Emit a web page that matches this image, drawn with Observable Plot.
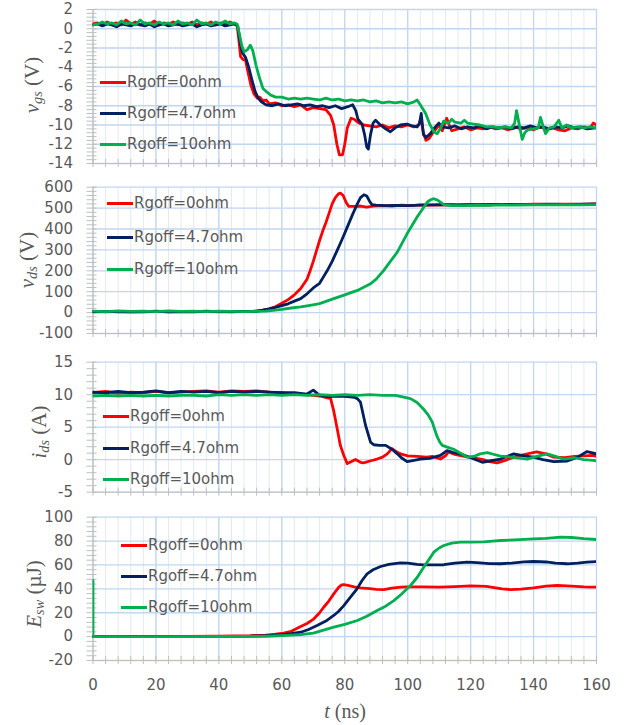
<!DOCTYPE html>
<html><head><meta charset="utf-8">
<script src="https://cdn.jsdelivr.net/npm/d3@7"></script>
<script src="https://cdn.jsdelivr.net/npm/@observablehq/plot@0.6"></script>
<style>
body{margin:0;background:#fff;}
#chart{position:relative;width:628px;height:725px;overflow:hidden;background:#fff;}
#chart svg{position:absolute;left:0;}
.leg{position:absolute;display:flex;align-items:center;height:20px;font-family:"DejaVu Sans",sans-serif;font-size:15px;color:#595959;white-space:nowrap;}
.leg .sw{display:inline-block;width:26px;height:3px;margin-right:1px;}
.ytitle{position:absolute;font-family:"Liberation Serif",serif;font-size:21px;color:#595959;white-space:nowrap;transform:translate(-50%,-50%) rotate(-90deg);line-height:1;}
.ytitle sub{font-size:0.68em;vertical-align:-0.25em;font-style:italic;}
.xtitle{position:absolute;font-family:"Liberation Serif",serif;font-size:20px;color:#595959;white-space:nowrap;transform:translate(-50%,-50%);line-height:1;}
</style>
</head><body>
<div id="chart"></div>
<script>
// ---------- shared axis data ----------
const T_TICKS = [0,20,40,60,80,100,120,140,160];
const SERIES = ["Rgoff=0ohm","Rgoff=4.7ohm","Rgoff=10ohm"];
const COLORS = ["#FF0000","#002060","#00B050"];

// ---------- v_gs (V) ----------
const VGS_TICKS = [2,0,-2,-4,-6,-8,-10,-12,-14];
const vgs_0 = [[0,0.5],[1.5,0.6],[3,0.4],[4.5,0.7],[6,0.5],[7.5,0.6],[9,0.4],[10.5,0.9],[12,0.5],[13.5,0.7],[15,0.4],[16.5,0.6],[18,0.5],[19.5,0.8],[21,0.4],[22.5,0.6],[24,0.5],[25.5,0.7],[27,0.4],[28.5,0.6],[30,0.5],[31.5,0.7],[33,0.4],[34.5,0.6],[36,0.5],[37.5,0.7],[39,0.4],[40.5,0.6],[42,0.5],[43.5,0.7],[45,0.5],[45.8,0.3],[46.3,-1.0],[46.9,-2.9],[47.7,-3.2],[48.5,-3.3],[49.3,-4.6],[50.2,-5.9],[51.2,-6.8],[52.2,-7.2],[53,-7.1],[54,-7.5],[55,-7.4],[56,-7.8],[58,-7.7],[60,-8.0],[62,-7.9],[64,-8.1],[66,-7.9],[68,-8.4],[70,-8.2],[72,-8.3],[74,-8.4],[75.5,-9.0],[76.5,-10.0],[77.5,-12.0],[78.3,-13.1],[79.3,-13.1],[80,-12.0],[80.8,-10.3],[82,-9.3],[83,-9.4],[84.5,-9.8],[86,-10.0],[88,-10.1],[90,-10.2],[92,-10.0],[94,-10.3],[96,-10.1],[98,-10.2],[100,-10.0],[102,-10.2],[103.5,-10.0],[104.2,-9.3],[105,-10.8],[105.8,-11.6],[106.8,-11.4],[108,-10.8],[109,-10.4],[110,-10.0],[111,-10.6],[112.4,-9.3],[113.2,-10.0],[114,-10.6],[116,-10.4],[118,-10.2],[120,-10.5],[122,-10.3],[124,-10.4],[126,-10.2],[128,-10.4],[130,-10.3],[132,-10.5],[134,-10.2],[136,-10.4],[138,-10.3],[140,-10.5],[142,-10.2],[144,-10.4],[146,-10.3],[148,-10.5],[150,-10.6],[152,-10.3],[154,-10.4],[156,-10.2],[158,-10.3],[159,-9.8],[160,-10.0]];
const vgs_47 = [[0,0.4],[1.5,0.5],[3,0.3],[4.5,0.5],[6,0.4],[7.5,0.2],[9,0.5],[10.5,0.4],[12,0.3],[13.5,0.5],[15,0.4],[16.5,0.3],[18,0.5],[19.5,0.2],[21,0.4],[22.5,0.5],[24,0.3],[25.5,0.4],[27,0.5],[28.5,0.3],[30,0.4],[31.5,0.5],[33,0.2],[34.5,0.4],[36,0.5],[37.5,0.3],[39,0.4],[40.5,0.5],[42,0.3],[43.5,0.4],[45,0.5],[46,0.3],[46.8,-1.5],[47.5,-2.5],[48.5,-3.0],[49.5,-4.0],[50.5,-5.3],[51.5,-6.5],[52.5,-7.2],[53.5,-7.6],[55,-7.9],[57,-8.0],[59,-7.8],[61,-8.0],[63,-7.9],[65,-7.8],[67,-8.0],[69,-7.9],[71,-8.1],[73,-8.0],[75,-8.2],[77,-8.0],[79,-8.3],[81,-8.1],[82.5,-7.9],[83.5,-8.5],[84.2,-9.4],[85.5,-9.9],[86.3,-11.0],[87,-12.3],[87.5,-12.5],[88.2,-11.0],[89,-9.8],[89.8,-9.5],[91,-9.9],[93,-10.4],[94.5,-10.7],[96,-10.3],[97.7,-10.0],[99.8,-9.9],[101.5,-10.1],[103,-10.2],[103.8,-9.8],[104.3,-8.8],[105,-11.0],[105.8,-11.3],[107.2,-10.9],[108.5,-10.3],[109.9,-9.8],[111,-10.2],[113,-10.3],[115,-10.1],[117,-10.4],[119,-10.2],[121,-10.3],[123,-10.1],[125,-10.4],[127,-10.2],[129,-10.3],[131,-10.2],[133,-10.4],[135,-10.2],[137,-10.3],[139,-10.1],[141,-10.3],[143,-10.2],[145,-10.4],[147,-10.2],[149,-10.3],[151,-10.1],[153,-10.3],[155,-10.2],[157,-10.4],[160,-10.3]];
const vgs_10 = [[0,0.4],[1.5,0.5],[3,0.7],[4.5,0.5],[6,0.6],[7.5,0.4],[9,0.8],[10.5,0.5],[12,0.6],[13.5,0.4],[15,0.9],[16.5,0.5],[18,0.6],[19.5,0.4],[21,0.7],[22.5,0.5],[24,0.6],[25.5,0.4],[27,0.8],[28.5,0.5],[30,0.6],[31.5,0.4],[33,0.9],[34.5,0.5],[36,0.6],[37.5,0.4],[39,0.7],[40.5,0.5],[42,0.8],[43.5,0.5],[45,0.6],[45.8,0.5],[46.5,-0.5],[47.3,-1.8],[48,-2.4],[49,-2.2],[50,-1.7],[50.8,-2.3],[51.8,-3.8],[53,-5.2],[54,-6.2],[55,-6.5],[56.5,-6.9],[58,-7.1],[60,-7.1],[62,-7.3],[64,-7.2],[66,-7.3],[68,-7.2],[70,-7.3],[72,-7.4],[74,-7.2],[76,-7.4],[78,-7.3],[80,-7.5],[82,-7.4],[84,-7.5],[86,-7.4],[88,-7.6],[90,-7.5],[92,-7.7],[94,-7.6],[96,-7.7],[98,-7.6],[100,-7.8],[102,-7.6],[103,-7.4],[104,-7.9],[105.7,-8.8],[107,-9.9],[108.3,-10.7],[109.4,-10.9],[110.5,-10.3],[111.4,-9.6],[113,-9.8],[114,-9.4],[115,-9.7],[117,-9.8],[118,-9.5],[119,-9.8],[121,-9.9],[123,-10.0],[125,-10.2],[127,-10.2],[129,-10.3],[131,-10.2],[133,-10.3],[134,-9.8],[134.6,-8.5],[135.3,-9.7],[136.4,-11.5],[137.2,-10.8],[138.2,-10.5],[140,-10.4],[141.5,-10.3],[142.2,-9.2],[143,-10.1],[143.8,-10.9],[145,-10.3],[146.5,-10.2],[148,-9.5],[149,-10.3],[150.5,-10.0],[152,-10.3],[154,-10.2],[156,-10.3],[158,-10.2],[160,-10.3]];

// ---------- v_ds (V) ----------
const VDS_TICKS = [600,500,400,300,200,100,0,-100];
const vds_0 = [[0,5],[4,3],[8,6],[12,4],[16,5],[20,7],[24,4],[28,6],[32,5],[36,7],[40,4],[44,6],[48,5],[51,7],[54,12],[56,18],[58,28],[60,45],[62,62],[64,85],[66,115],[68,160],[69,200],[70,245],[71,295],[72,345],[73,390],[74,430],[75,475],[76,520],[77,550],[78,568],[78.6,572],[79.5,560],[80.5,525],[81.3,508],[83,508],[85,510],[87,505],[89,510],[92,512],[95,510],[98,514],[101,512],[104,515],[108,514],[112,516],[116,515],[120,517],[125,516],[130,518],[135,517],[140,519],[145,518],[150,519],[155,518],[160,520]];
const vds_47 = [[0,4],[4,6],[8,3],[12,5],[16,4],[20,6],[24,3],[28,5],[32,4],[36,6],[40,5],[44,4],[48,6],[52,6],[54,12],[56,18],[58,25],[60,33],[62,42],[64,55],[66,67],[68,90],[70,118],[72,140],[73,165],[74.4,200],[76,245],[77.6,298],[79,345],[80.8,409],[82.5,470],[84,520],[85,550],[86.1,564],[87,558],[88,530],[88.7,516],[90,514],[93,512],[96,513],[100,512],[104,514],[108,515],[112,516],[116,515],[120,517],[125,516],[130,518],[135,517],[140,518],[145,519],[150,518],[155,519],[160,520]];
const vds_10 = [[0,7],[4,5],[8,8],[12,6],[16,7],[20,5],[24,8],[28,6],[32,7],[36,5],[40,7],[44,6],[48,5],[52,6],[55,7],[58,12],[60,15],[63,22],[66,27],[69,35],[72,43],[76.5,67],[80,85],[84,106],[88.2,138],[90,160],[92.4,202],[94.5,245],[96.7,289],[99.8,377],[103,457],[106.2,528],[107.3,540],[108.3,545],[109.5,538],[111.5,517],[114,512],[118,512],[122,514],[126,513],[130,515],[135,514],[140,516],[145,515],[150,516],[155,515],[160,517]];

// ---------- i_ds (A) ----------
const IDS_TICKS = [15,10,5,0,-5];
const ids_0 = [[0,10.3],[4,10.5],[8,10.2],[12,10.4],[16,10.3],[20,10.5],[24,10.3],[28,10.4],[32,10.5],[36,10.6],[40,10.4],[44,10.6],[48,10.5],[52,10.6],[56,10.4],[60,10.3],[64,10.1],[68,10.0],[72,9.8],[75.5,9.4],[76.5,7.5],[77.6,4.75],[78.6,2.2],[79.7,0.65],[80.8,-0.6],[82,-0.3],[83.4,0.03],[85,-0.4],[86,-0.5],[88,-0.2],[90.3,0.1],[92,0.4],[93.5,0.9],[95,1.7],[96.5,1.2],[97.7,0.9],[100,0.6],[103,0.5],[106,0.4],[108,0.5],[110.4,0.1],[112,0.6],[113,1.2],[115,0.8],[118,0.5],[121,0.3],[124,0.0],[126,-0.3],[128.4,-0.5],[131,-0.1],[133.7,0.4],[137,0.8],[141,1.2],[144,0.9],[146.4,0.4],[150,0.3],[153,0.5],[156,0.6],[159,0.65],[160,0.5]];
const ids_47 = [[0,10.4],[4,10.3],[8,10.5],[12,10.3],[16,10.4],[20,10.6],[24,10.3],[28,10.5],[32,10.4],[36,10.5],[40,10.3],[44,10.5],[48,10.4],[52,10.5],[56,10.4],[60,10.3],[64,10.3],[68,10.1],[70,10.7],[72,9.9],[75,9.7],[78,9.8],[81,9.7],[83,9.6],[84,9.4],[85,8.85],[86.6,5.3],[88.2,2.7],[89.2,2.3],[91,2.2],[93,2.2],[95,1.6],[96.7,0.9],[98,0.3],[99.8,-0.3],[102,-0.1],[104,0.1],[107,0.2],[110.4,0.65],[112.5,1.4],[114.5,1.1],[116.8,0.9],[120,0.3],[123.7,-0.4],[126,-0.2],[129.5,0.1],[131.5,0.5],[133.7,0.9],[137,0.6],[140,0.4],[143,0.0],[146.4,-0.3],[150.7,-0.2],[154,0.4],[157,1.25],[160,0.9]];
const ids_10 = [[0,9.8],[4,9.9],[8,9.8],[12,9.9],[16,9.8],[20,9.9],[24,9.8],[28,9.9],[32,9.9],[36,9.8],[40,10.0],[44,9.9],[48,10.0],[52,9.9],[56,10.0],[60,9.9],[64,10.0],[68,9.9],[72,10.0],[76,9.9],[80,10.0],[84,9.9],[88,10.0],[92,9.9],[96,9.9],[98,9.7],[100.9,9.4],[103,8.8],[105,7.8],[106.5,6.9],[107.8,5.8],[108.6,4.6],[109.4,3.5],[110.2,2.7],[111,2.2],[112.8,1.9],[114.6,1.6],[116.8,1.0],[118.9,0.4],[121,0.5],[123,0.9],[125.3,1.1],[127.5,0.8],[129.5,0.55],[133,0.4],[136,0.2],[138,0.1],[141,0.5],[144.3,0.9],[147,0.5],[149.6,0.1],[153,0.3],[156,0.0],[159,-0.1],[160,-0.2]];

// ---------- E_sw (µJ) ----------
const ESW_TICKS = [100,80,60,40,20,0,-20];
const esw_0 = [[0,0],[10,0],[20,0.1],[30,0.2],[40,0.4],[50,0.8],[55,1.3],[58,2.0],[60.6,2.9],[63,4.5],[66,8.5],[68,11],[70.2,14.9],[72,20],[73.3,24.6],[75,30],[76.5,35.8],[78,41],[79,43.3],[79.7,43.6],[81,43],[83,41.7],[85,40.9],[88,40.2],[90,39.6],[92.4,39.4],[95,40.6],[97.7,41.4],[100,41.6],[105,41.7],[110,41.5],[115,41.9],[120,42.5],[125,42],[130,40],[132.7,39.4],[136,39.8],[140,40.8],[144,42.2],[147.5,42.8],[152,42.2],[156,41.6],[160,41.4]];
const esw_47 = [[0,0],[30,0.1],[50,0.4],[55,0.8],[60,1.6],[63,2.5],[66,3.7],[68.5,6],[71.2,9.3],[74,13],[76.5,17.7],[78,21],[79.7,26],[81.5,32],[83.9,40],[85.5,47],[87.1,52.6],[89,56],[91.4,58.7],[94,60.5],[97.7,61.8],[100,61.5],[103,60.5],[105.1,60.1],[108,60],[111.5,60.2],[115,61.5],[118.9,62.3],[122,62],[126,61.2],[129.5,61],[133,61.6],[137,62.6],[140,62.9],[144,62.5],[147,61.5],[150.7,61],[154,61.6],[157,62.4],[160,62.9]];
const esw_10 = [[0,47],[0,0],[20,0],[40,0.1],[55,0.3],[60,0.8],[66,1.6],[70,3],[73,5.2],[76.5,7.9],[80,10.3],[84,13.5],[87,17],[90.3,21.9],[93,25.5],[95.6,30.2],[98,35.5],[100.9,42.8],[103,49.5],[105.1,58.1],[107,65.5],[108.3,70.7],[110,74.2],[111.5,76.3],[114,78.3],[116.8,79.1],[120,79.2],[124.2,79.3],[127,80],[129.5,80.5],[134,81],[140,81.9],[144,82.3],[148.6,83.3],[152,83],[156,82],[160,81.3]];

// ---------- layout ----------
const panels = [
  {series:[vgs_0,vgs_47,vgs_10], yTicks:VGS_TICKS, minor:0.4, top:0, height:172, mt:9, mb:9,
   title:'<i>v</i><sub>gs</sub> (V)', tx:33, ty:85, legX:100, legY:[82,113,144]},
  {series:[vds_0,vds_47,vds_10], yTicks:VDS_TICKS, minor:20, top:172, height:170, mt:14.7, mb:9,
   title:'<i>v</i><sub>ds</sub> (V)', tx:28, ty:260, legX:107, legY:[203,237,269]},
  {series:[ids_0,ids_47,ids_10], yTicks:IDS_TICKS, minor:1, top:342, height:158, mt:19.7, mb:8.3,
   title:'<i>i</i><sub>ds</sub> (A)', tx:40, ty:432, legX:103, legY:[416,448,479]},
  {series:[esw_0,esw_47,esw_10], yTicks:ESW_TICKS, minor:4, top:500, height:225, mt:16.7, mb:65,
   title:'<i>E</i><sub>sw</sub> (µJ)', tx:35, ty:594, legX:121, legY:[545,576,607], xLabels:true}
];

const chart = document.getElementById("chart");
const xMinor = d3.range(0, 160 + 1e-9, 4);
const GRID_MAJOR = "#C2D6EE", GRID_MINOR = "#E3EAF5", AXIS = "#BFBFBF";

panels.forEach(p => {
  const ymin = d3.min(p.yTicks), ymax = d3.max(p.yTicks);
  const yMinor = d3.range(Math.round((ymax - ymin) / p.minor) + 1).map(i => +(ymin + i * p.minor).toFixed(6));
  const rows = [];
  p.series.forEach((s, k) => s.forEach(([t, v]) => rows.push({t, v, s: SERIES[k]})));
  const marks = [
    Plot.ruleX(xMinor, {x: d => d, stroke: GRID_MINOR}),
    Plot.ruleX(T_TICKS, {x: d => d, stroke: GRID_MAJOR, strokeWidth: 1.3}),
    Plot.ruleY(p.yTicks, {y: d => d, stroke: GRID_MAJOR, strokeWidth: 1.3}),
    Plot.ruleX([0], {x: d => d, stroke: AXIS}),
    Plot.ruleY([ymin], {y: d => d, stroke: AXIS}),
    Plot.ruleX(xMinor, {x: d => d, y1: ymin, y2: ymin, insetTop: -4, insetBottom: -4, stroke: AXIS}),
    Plot.ruleY(yMinor, {y: d => d, x1: 0, x2: 0, insetLeft: -6, insetRight: -4, stroke: AXIS}),
    Plot.axisY({ticks: p.yTicks, tickSize: 0, tickPadding: 20, tickFormat: d => String(d), label: null}),
    Plot.line(rows, {x: "t", y: "v", z: "s", stroke: "s", strokeWidth: 2.8, clip: true})
  ];
  if (p.xLabels) marks.push(Plot.axisX({ticks: T_TICKS, tickSize: 0, tickPadding: 19, tickFormat: d => String(d), label: null}));
  const svg = Plot.plot({
    width: 628, height: p.height,
    marginLeft: 92.5, marginRight: 32, marginTop: p.mt, marginBottom: p.mb,
    x: {domain: [0, 160], axis: p.xLabels ? undefined : null},
    y: {domain: [ymin, ymax]},
    color: {domain: SERIES, range: COLORS},
    style: {fontFamily: "'DejaVu Sans', sans-serif", fontSize: "15px", color: "#595959", background: "transparent", overflow: "visible"},
    marks
  });
  svg.style.top = p.top + "px";
  chart.appendChild(svg);

  const t = document.createElement("div");
  t.className = "ytitle";
  t.innerHTML = p.title;
  t.style.left = p.tx + "px"; t.style.top = p.ty + "px";
  chart.appendChild(t);

  SERIES.forEach((name, k) => {
    const d = document.createElement("div");
    d.className = "leg";
    d.style.left = p.legX + "px";
    d.style.top = (p.legY[k] - 10) + "px";
    d.innerHTML = `<span class="sw" style="background:${COLORS[k]}"></span><span>${name}</span>`;
    chart.appendChild(d);
  });
});

const xt = document.createElement("div");
xt.className = "xtitle";
xt.innerHTML = '<i>t</i> (ns)';
xt.style.left = "345px"; xt.style.top = "711px";
chart.appendChild(xt);
</script>
</body></html>
